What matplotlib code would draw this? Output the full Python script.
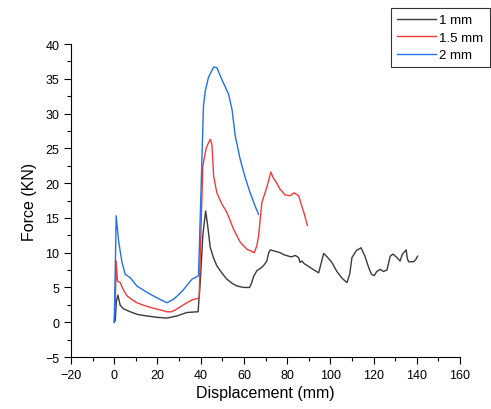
import matplotlib
matplotlib.use("Agg")
import matplotlib.pyplot as plt
from matplotlib.ticker import MultipleLocator

plt.rcParams['font.family'] = ['Liberation Sans', 'DejaVu Sans']

# 1 mm
x1 = [0, 0.5, 1.0, 1.7, 2.8, 4.5, 7.4, 11, 15.1, 20, 24.4, 29, 33.6, 38.3, 38.8,
      39.8, 41, 42.3, 43.2, 44.4, 46, 47.5, 50, 52.1, 54.5, 56.8, 60, 62.6, 63.5,
      64.5, 66, 68.3, 69.5, 70.6, 71.5, 72.2, 74.5, 76.8, 78.5, 80.7, 82, 83.8,
      85.3, 86, 86.8, 88, 90.5, 92.5, 94.6, 96.9, 98.5, 100.7, 103, 105.5, 107.7,
      109, 110, 112, 114.2, 116, 117.7, 119, 120.3, 121.5, 123.1, 124.5, 126.2,
      127.7, 129, 130.5, 132.3, 133.2, 133.9, 135.1, 135.6, 136.2, 138.5, 139.5,
      140.4]
y1 = [0, 0.3, 3.0, 3.9, 2.4, 1.9, 1.5, 1.1, 0.9, 0.7, 0.6, 0.9, 1.4, 1.5, 1.5,
      5.7, 12.5, 16.0, 14.0, 10.8, 9.2, 8.1, 7.0, 6.2, 5.6, 5.2, 5.0, 5.0, 5.6,
      6.6, 7.4, 7.9, 8.3, 8.8, 10.0, 10.4, 10.2, 10.0, 9.7, 9.5, 9.4, 9.6,
      9.3, 8.6, 8.8, 8.4, 7.9, 7.5, 7.1, 9.9, 9.4, 8.6, 7.3, 6.3, 5.7,
      7.0, 9.3, 10.3, 10.7, 9.5, 7.9, 6.9, 6.7, 7.3, 7.6, 7.3, 7.5,
      9.5, 9.8, 9.4, 8.8, 9.7, 10.0, 10.4, 9.2, 8.7, 8.7, 9.0,
      9.5]

# 1.5 mm
x2 = [0, 0.5, 0.9, 1.5, 2.8, 4, 5.9, 8, 10.5, 14, 18.2, 21, 24.4, 26.5, 29, 31,
      33.6, 36, 38.3, 39.3, 40, 41, 42.6, 44.4, 45.2, 46, 47.5, 49.8, 52.1, 55.2,
      58.3, 61.4, 64.8, 66, 66.8, 68.3, 70.6, 72.5, 73.5, 75, 76.8, 79.1, 81.4,
      83.3, 85.3, 86.8, 88, 89.4]
y2 = [0, 3, 8.8, 5.9, 5.7, 4.8, 3.8, 3.3, 2.8, 2.4, 2.0, 1.8, 1.5, 1.5, 1.9, 2.3,
      2.8, 3.2, 3.4, 3.5, 11.7, 22.5, 25.1, 26.3, 25.6, 21.0, 18.6, 17.0, 15.8, 13.4,
      11.5, 10.5, 10.0, 11.0, 12.4, 17.2, 19.4, 21.6, 20.8, 20.1, 19.1, 18.3, 18.2,
      18.6, 18.2, 16.7, 15.5, 13.9]

# 2 mm
x3 = [0, 0.5, 0.9, 2.0, 3.6, 5.1, 7.4, 10.5, 15.1, 19.8, 24.4, 27.4, 30, 32.1,
      36, 38, 39, 41.3, 42.1, 43.6, 46, 47.5, 49.8, 52.9, 54.5, 56, 58.3, 60.6,
      62.9, 65.2, 66.8]
y3 = [0, 8, 15.3, 11.7, 8.6, 6.9, 6.4, 5.2, 4.3, 3.5, 2.8, 3.3, 4.0, 4.7,
      6.2, 6.5, 6.7, 31.1, 33.2, 35.2, 36.7, 36.6, 34.9, 32.8, 30.6, 26.8, 23.4, 20.8,
      18.6, 16.7, 15.5]

fig = plt.figure(figsize=(4.91, 4.10), dpi=100)
ax = fig.add_axes([0.1446, 0.1268, 0.7923, 0.7634])

l1, = ax.plot(x1, y1, color='#3a3a3a', lw=1.0, label='1 mm')
l2, = ax.plot(x2, y2, color='#ee3b3b', lw=1.0, label='1.5 mm')
l3, = ax.plot(x3, y3, color='#2271e8', lw=1.0, label='2 mm')

ax.set_xlim(-20, 160)
ax.set_ylim(-5, 40)
ax.xaxis.set_major_locator(MultipleLocator(20))
ax.xaxis.set_minor_locator(MultipleLocator(10))
ax.yaxis.set_major_locator(MultipleLocator(5))
ax.yaxis.set_minor_locator(MultipleLocator(2.5))
ax.spines['top'].set_visible(False)
ax.spines['right'].set_visible(False)
ax.tick_params(which='major', direction='out', length=5, width=0.8, labelsize=9)
ax.tick_params(which='minor', direction='out', length=3, width=0.8)

ax.set_xlabel('Displacement (mm)', fontsize=11.5, labelpad=3)
ax.set_ylabel('Force (KN)', fontsize=11.5, labelpad=6)

leg = fig.legend(handles=[l1, l2, l3], loc='upper left',
                 bbox_to_anchor=(0.797, 0.978), fontsize=9.5, frameon=True,
                 fancybox=False, edgecolor='black', handlelength=2.9,
                 borderpad=0.45, labelspacing=0.4, handletextpad=0.3,
                 borderaxespad=0)
leg.get_frame().set_linewidth(0.8)

fig.savefig('out.png', dpi=100)
